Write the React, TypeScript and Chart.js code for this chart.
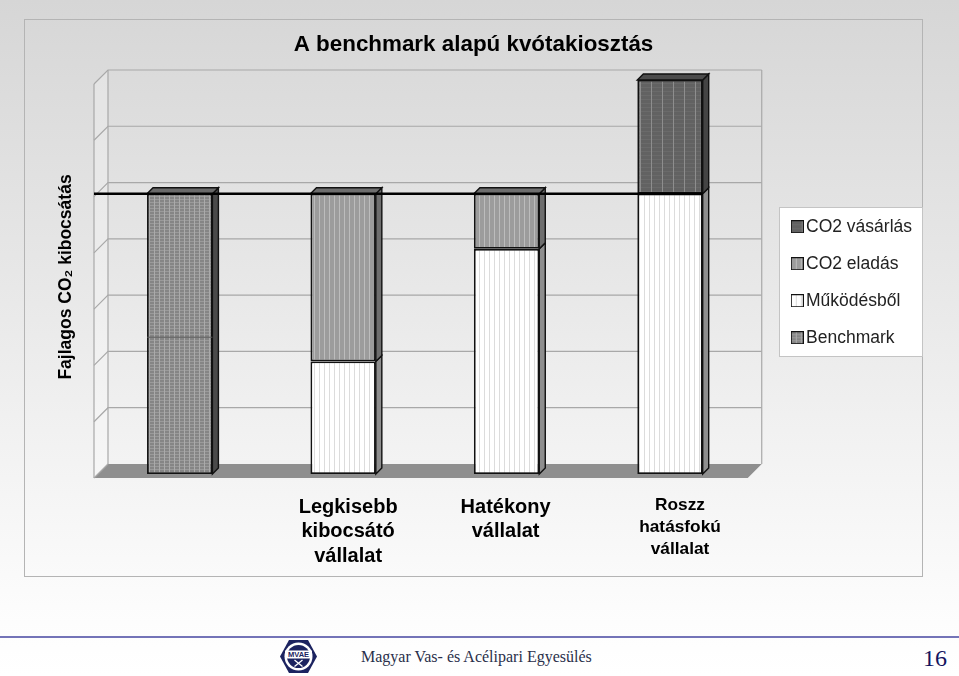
import React, { useEffect, useRef } from "react";
import { Chart, registerables } from "chart.js";

Chart.register(...registerables);

const categories: string[][] = [[""], ["Legkisebb", "kibocsátó", "vállalat"], ["Hatékony", "vállalat"], ["Roszz", "hatásfokú", "vállalat"]];
const benchmarkValues = [4.98, null, null, null];
const operationValues = [null, 2, 4, 4.98];
const co2SaleValues = [null, 2.98, 0.98, null];
const co2PurchaseValues = [null, null, null, 2.02];
const benchmarkLevel = 4.98;
const firstBarSeam = 2.43;
const axisMax = 7;
const labelNudge = [0, 5, -1, 10];
const labelNudgeY = [0, 0, 0, -1];
const labelSizes = [20, 20, 20, 17.3];
const labelLineHeights = [1.225, 1.225, 1.225, 1.27];

const BACK = 10;
const FRONT = 4;
const BAR_DEPTH = 6;

function makeTile(base: string, vColor: string, vEvery: number, hColor: string | null, hEvery: number) {
  const c = document.createElement("canvas");
  c.width = vEvery;
  c.height = Math.max(hEvery, 1);
  const x = c.getContext("2d")!;
  x.fillStyle = base;
  x.fillRect(0, 0, c.width, c.height);
  if (hColor) {
    x.fillStyle = hColor;
    x.fillRect(0, 0, c.width, 1);
  }
  x.fillStyle = vColor;
  x.fillRect(0, 0, 1, c.height);
  return c;
}

function makePatterns() {
  const ctx = document.createElement("canvas").getContext("2d")!;
  const p = (t: HTMLCanvasElement) => ctx.createPattern(t, "repeat")!;
  return {
    benchmark: p(makeTile("#858585", "#aaaaaa", 5, "#9a9a9a", 3)),
    operation: p(makeTile("#ffffff", "#dcdcdc", 5, null, 1)),
    sale: p(makeTile("#9c9c9c", "#bcbcbc", 5, null, 1)),
    purchase: p(makeTile("#626262", "#8e8e8e", 11, "#6a6a6a", 4)),
  };
}

function makeSwatch(fill: CanvasPattern) {
  const c = document.createElement("canvas");
  c.width = 13;
  c.height = 13;
  const x = c.getContext("2d")!;
  x.fillStyle = fill;
  x.fillRect(0, 0, 13, 13);
  x.strokeStyle = "#111";
  x.lineWidth = 1;
  x.strokeRect(0.5, 0.5, 12, 12);
  return c;
}

function poly(ctx: CanvasRenderingContext2D, pts: number[][], fill?: string | CanvasPattern, stroke?: string, lw = 1) {
  ctx.beginPath();
  pts.forEach((p, i) => (i ? ctx.lineTo(p[0], p[1]) : ctx.moveTo(p[0], p[1])));
  ctx.closePath();
  if (fill) {
    ctx.fillStyle = fill;
    ctx.fill();
  }
  if (stroke) {
    ctx.strokeStyle = stroke;
    ctx.lineWidth = lw;
    ctx.stroke();
  }
}

const sideShades = ["#4a4a4a", "#8e8e8e", "#6e6e6e", "#444444"];
const topShades = ["#6a6a6a", "#8e8e8e", "#6e6e6e", "#4c4c4c"];

const scenePlugin = {
  id: "scene3d",
  afterLayout(chart: any) {
    const lg = chart.legend;
    const w = lg.width;
    lg.left = 753.75;
    lg.right = 753.75 + w;
    lg.top = 179.5;
    lg.bottom = 179.5 + lg.height;
  },
  beforeDraw(chart: any) {
    const { ctx } = chart;
    ctx.save();
    ctx.fillStyle = "#ffffff";
    ctx.strokeStyle = "#c4c4c4";
    ctx.lineWidth = 1;
    ctx.fillRect(755.5, 188.5, 143, 149);
    ctx.strokeRect(755.5, 188.5, 143, 149);
    ctx.restore();
    const items = chart.scales.x.getLabelItems();
    if (!chart.$nudged) {
      items.forEach((it: any, i: number) => {
        it.options.translation[0] += labelNudge[i] || 0;
        it.options.translation[1] += labelNudgeY[i] || 0;
      });
      chart.$nudged = true;
    }
  },
  beforeDatasetsDraw(chart: any) {
    const { ctx, chartArea: a, scales } = chart;
    const y = scales.y;
    const wall = "#a8a8a8";
    ctx.save();
    const bl = a.left + BACK;
    const br = a.right + BACK;
    const fl = a.left - FRONT;
    const fr = a.right - FRONT;
    const zero = y.getPixelForValue(0);
    poly(
      ctx,
      [
        [fl, y.getPixelForValue(axisMax) + FRONT],
        [bl, y.getPixelForValue(axisMax) - BACK],
        [bl, zero - BACK],
        [fl, zero + FRONT],
      ],
      "rgba(255,255,255,0.25)"
    );
    poly(
      ctx,
      [
        [fl, zero + FRONT],
        [bl, zero - BACK],
        [br, zero - BACK],
        [fr, zero + FRONT],
      ],
      "#8f8f8f"
    );
    ctx.strokeStyle = wall;
    ctx.lineWidth = 1.2;
    y.ticks.forEach((t: any) => {
      const py = y.getPixelForValue(t.value);
      ctx.beginPath();
      ctx.moveTo(fl, py + FRONT);
      ctx.lineTo(bl, py - BACK);
      if (t.value !== 0) ctx.lineTo(br, py - BACK);
      ctx.stroke();
    });
    ctx.beginPath();
    ctx.moveTo(fl, y.getPixelForValue(axisMax) + FRONT);
    ctx.lineTo(fl, zero + FRONT);
    ctx.moveTo(bl, y.getPixelForValue(axisMax) - BACK);
    ctx.lineTo(bl, zero - BACK);
    ctx.moveTo(br, y.getPixelForValue(axisMax) - BACK);
    ctx.lineTo(br, zero - BACK);
    ctx.stroke();
    ctx.restore();
  },
  afterDatasetsDraw(chart: any) {
    const { ctx, chartArea: a, scales } = chart;
    const y = scales.y;
    ctx.save();
    const topIndex: Record<number, number> = {};
    chart.data.datasets.forEach((ds: any, di: number) => {
      ds.data.forEach((v: number | null, i: number) => {
        if (v != null) topIndex[i] = di;
      });
    });
    chart.data.datasets.forEach((ds: any, di: number) => {
      const meta = chart.getDatasetMeta(di);
      meta.data.forEach((el: any, i: number) => {
        if (ds.data[i] == null) return;
        const { x, y: top, base, width } = el.getProps(["x", "y", "base", "width"], true);
        const r = x + width / 2;
        const l = x - width / 2;
        poly(
          ctx,
          [
            [r, top],
            [r + BAR_DEPTH, top - BAR_DEPTH],
            [r + BAR_DEPTH, base - BAR_DEPTH],
            [r, base],
          ],
          sideShades[di],
          "#111",
          1.4
        );
        if (topIndex[i] === di) {
          poly(
            ctx,
            [
              [l, top],
              [l + BAR_DEPTH, top - BAR_DEPTH],
              [r + BAR_DEPTH, top - BAR_DEPTH],
              [r, top],
            ],
            topShades[di],
            "#111",
            1.4
          );
        }
      });
    });
    const first = chart.getDatasetMeta(0).data[0];
    const sy = y.getPixelForValue(firstBarSeam);
    ctx.strokeStyle = "#5a5a5a";
    ctx.lineWidth = 1;
    ctx.beginPath();
    ctx.moveTo(first.x - first.width / 2, sy);
    ctx.lineTo(first.x + first.width / 2, sy);
    ctx.stroke();
    const last = chart.getDatasetMeta(1).data[3];
    const ly = y.getPixelForValue(benchmarkLevel);
    ctx.strokeStyle = "#000";
    ctx.lineWidth = 2.4;
    ctx.beginPath();
    ctx.moveTo(a.left - FRONT, ly);
    ctx.lineTo(last.x + last.width / 2, ly);
    ctx.stroke();
    ctx.restore();
  },
};

export default function App() {
  const ref = useRef<HTMLCanvasElement>(null);
  useEffect(() => {
    const pat = makePatterns();
    const swatches = [pat.benchmark, pat.operation, pat.sale, pat.purchase].map(makeSwatch);
    const common = { borderColor: "#111", borderWidth: 1.8, barPercentage: 0.4, categoryPercentage: 1, borderSkipped: false };
    const chart = new Chart(ref.current!, {
      type: "bar",
      data: {
        labels: categories as any,
        datasets: [
          { label: "Benchmark", data: benchmarkValues, backgroundColor: pat.benchmark, ...common },
          { label: "Működésből", data: operationValues, backgroundColor: pat.operation, ...common },
          { label: "CO2 eladás", data: co2SaleValues, backgroundColor: pat.sale, ...common },
          { label: "CO2 vásárlás", data: co2PurchaseValues, backgroundColor: pat.purchase, ...common },
        ] as any,
      },
      plugins: [scenePlugin as any],
      options: {
        responsive: false,
        animation: false,
        devicePixelRatio: 1,
        font: { family: "'Liberation Sans', Arial, sans-serif" },
        layout: { padding: { left: 27, right: 27, top: 0, bottom: 0 } },
        plugins: {
          tooltip: { enabled: false },
          title: {
            display: true,
            text: "A benchmark alapú kvótakiosztás",
            color: "#000",
            font: { size: 22.4, weight: "bold", family: "'Liberation Sans'" },
            padding: { top: 12.6, bottom: 21.5 },
          },
          legend: {
            display: true,
            position: "right",
            align: "start",
            reverse: true,
            labels: {
              color: "#222",
              font: { size: 17.5, family: "'Liberation Sans'" },
              padding: 19.5,
              boxWidth: 0.01,
              usePointStyle: true,
              generateLabels(c: any) {
                const items = Chart.defaults.plugins.legend.labels.generateLabels(c);
                items.forEach((it: any) => {
                  it.pointStyle = swatches[it.datasetIndex];
                });
                return items;
              },
            },
          },
        } as any,
        scales: {
          x: {
            stacked: true,
            grid: { display: false },
            border: { display: false },
            afterFit(s: any) {
              s.height = 103;
            },
            ticks: {
              autoSkip: false,
              maxRotation: 0,
              minRotation: 0,
              padding: 13,
              color: "#000",
              font: (c: any) => ({
                size: labelSizes[c.index],
                weight: "bold",
                family: "'Liberation Sans'",
                lineHeight: labelLineHeights[c.index],
              }),
            },
          },
          y: {
            stacked: true,
            min: 0,
            max: axisMax,
            grid: { display: false },
            border: { display: false },
            afterFit(s: any) {
              s.width = 47;
            },
            ticks: { display: false, stepSize: 1 },
            title: {
              display: true,
              text: "Fajlagos CO₂ kibocsátás",
              color: "#000",
              font: { size: 17.5, weight: "bold", family: "'Liberation Sans'" },
              padding: { top: 5, bottom: 0 },
            },
          },
        } as any,
      } as any,
    });
    return () => chart.destroy();
  }, []);

  return (
    <div
      style={{
        position: "absolute",
        left: 0,
        top: 0,
        width: 959,
        height: 676,
        overflow: "hidden",
        background: "linear-gradient(180deg, #d6d6d6 0%, #fdfdfd 92%, #ffffff 100%)",
      }}
    >
      <div style={{ position: "absolute", left: 24, top: 19, width: 899, height: 558, boxShadow: "inset 0 0 0 1px #b4b4b4" }}>
        <canvas ref={ref} width={899} height={558} style={{ display: "block", width: 899, height: 558 }} />
      </div>
      <div style={{ position: "absolute", left: 0, top: 636, width: 959, height: 2, background: "#7474b8" }} />
      <svg style={{ position: "absolute", left: 280, top: 639 }} width="37" height="35" viewBox="0 0 37 35">
        <polygon points="9,1 28,1 37,17.5 28,34 9,34 0,17.5" fill="#1c2360" />
        <circle cx="18.5" cy="17.5" r="14" fill="#ffffff" />
        <circle cx="18.5" cy="17.5" r="11.5" fill="#1c2360" />
        <rect x="5" y="11.5" width="27" height="8" fill="#fff" />
        <text x="18.5" y="18" textAnchor="middle" fontFamily="Liberation Sans" fontWeight="bold" fontSize="7.5" fill="#1c2360">MVAE</text>
        <path d="M14.5 21 L22.5 27.5 M22.5 21 L14.5 27.5" stroke="#fff" strokeWidth="1.3" />
      </svg>
      <div style={{ position: "absolute", left: 361, top: 647, fontFamily: "'Liberation Serif'", fontSize: 16, lineHeight: "20px", color: "#2a2f4a", whiteSpace: "nowrap" }}>
        Magyar Vas- és Acélipari Egyesülés
      </div>
      <div style={{ position: "absolute", left: 923, top: 644, fontFamily: "'Liberation Serif'", fontSize: 24, lineHeight: "28px", color: "#14145f" }}>16</div>
    </div>
  );
}
